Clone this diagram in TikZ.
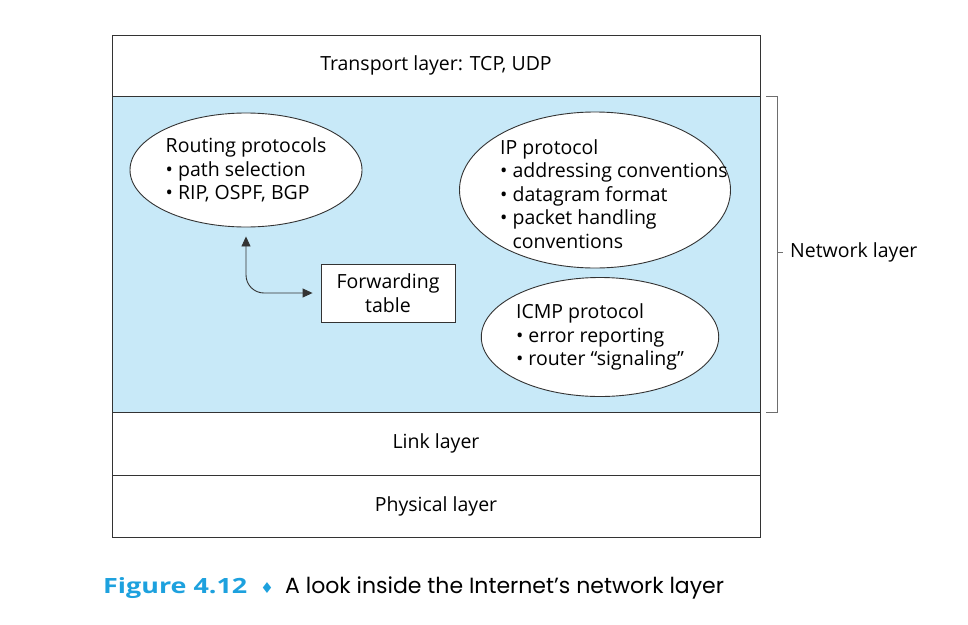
\documentclass[tikz,border=0pt]{standalone}
\usepackage{fontspec}
\setmainfont{Open Sans}
\newfontfamily\capfont{Poppins}
\newfontfamily\symfont{DejaVu Sans}
\usetikzlibrary{arrows.meta, positioning, shapes.geometric}
\definecolor{celeste}{HTML}{C8E9F8}
\definecolor{azulfig}{HTML}{1DA1DE}
\definecolor{linea}{HTML}{333333}
\definecolor{gris}{HTML}{6E6E6E}

\begin{document}
\begin{tikzpicture}[x=1pt, y=-1pt, font=\fontsize{19.5}{23.5}\selectfont,
    layer/.style={draw=linea, line width=1pt, minimum width=648pt, inner sep=0pt},
    proto/.style={ellipse, draw=linea, fill=white, line width=0.9pt, inner sep=0pt}]
  \useasboundingbox (0,0) rectangle (968,624);

  \def\xm{436}   % centro de la pila

  % --- Capas ---
  \node[layer, minimum height=61pt] (transport) at (\xm,65.5) {Transport layer: TCP, UDP};
  \node[layer, minimum height=316pt, fill=celeste] (network) at (\xm,254) {};
  \node[layer, minimum height=63pt] (link) at (\xm,443.5) {Link layer};
  \node[layer, minimum height=62pt] (physical) at (\xm,506) {Physical layer};

  % --- Protocolos dentro de la capa de red ---
  \node[proto, minimum width=232pt, minimum height=114pt, align=left] (routing) at (246,170)
    {Routing protocols\\ \textbullet\ path selection\\ \textbullet\ RIP, OSPF, BGP};
  \node[proto, minimum width=271pt, minimum height=156pt] (ip) at (595,190) {};
  \node[align=left, inner sep=0pt, anchor=west] (iptext) at (500,194)
    {IP protocol\\ \textbullet\ addressing conventions\\ \textbullet\ datagram format\\
     \textbullet\ packet handling\\ \hphantom{\textbullet\ }conventions};
  \node[proto, minimum width=233pt, minimum height=119pt, align=left] (icmp) at (600,337)
    {ICMP protocol\\ \textbullet\ error reporting\\ \textbullet\ router “signaling”};
  \node[draw=linea, fill=white, line width=0.9pt, minimum width=134pt, minimum height=58pt,
        align=center, inner sep=0pt] (fwd) at (388,293) {Forwarding\\table};

  \draw[{Triangle[length=10pt, width=9pt]}-{Triangle[length=10pt, width=9pt]}, line width=0.9pt,
        linea, rounded corners=18pt, shorten <=9pt, shorten >=8pt]
    (routing.south) |- (fwd.west);

  % --- Llave de la capa de red ---
  \draw[gris, line width=0.9pt] (766,96) -- (777,96) -- (777,412) -- (766,412);
  \node[anchor=west, inner sep=0pt] (netlabel) at (790,252) {Network layer};
  \draw[gris, line width=0.9pt] (777,252) -- (783,252);

  % --- Pie de figura ---
  \node[anchor=west, inner sep=0pt, text=azulfig, font=\bfseries\fontsize{21}{24}\selectfont]
    (figlabel) at (103,588) {\scalebox{1.28}[1]{Figure 4.12}};
  \node[inner sep=0pt, text=azulfig, font=\symfont\fontsize{15}{20}\selectfont]
    (diamond) at (267,588) {♦};
  \node[anchor=west, inner sep=0pt, font=\capfont\fontsize{22}{26}\selectfont]
    (captext) at (285,588) {A look inside the Internet’s network layer};

\end{tikzpicture}
\end{document}
